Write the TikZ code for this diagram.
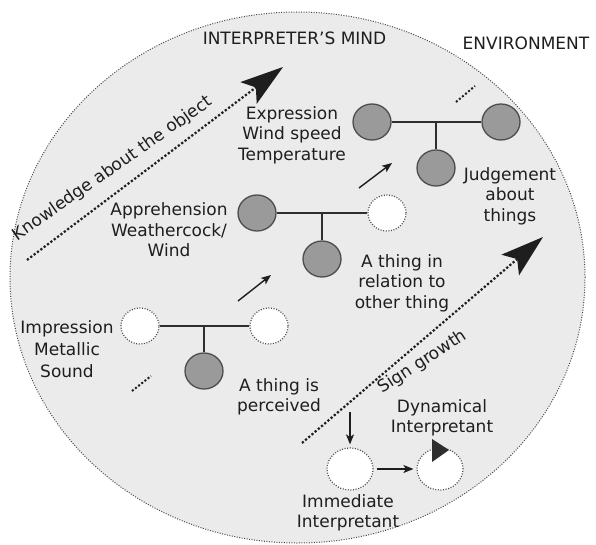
\documentclass[tikz,border=0pt]{standalone}
\usepackage{fontspec}
\setmainfont{DejaVu Sans}
\usetikzlibrary{arrows.meta,shapes.geometric,calc}

\definecolor{mindfill}{HTML}{EBEBEB}
\definecolor{dotline}{HTML}{4A4A4A}
\definecolor{signfill}{HTML}{9A9A9A}
\definecolor{signedge}{HTML}{4D4D4D}
\definecolor{bar}{HTML}{2E2E2E}
\definecolor{ink}{HTML}{1E1E1E}

\tikzset{
  lbl/.style={align=center, text=ink, inner sep=0pt,
    font=\fontsize{17}{20.5}\selectfont},
  title/.style={text=ink, inner sep=0pt, font=\fontsize{17}{20}\selectfont},
  filled/.style={ellipse, minimum width=38pt, minimum height=36pt, inner sep=0pt,
    fill=signfill, draw=signedge, line width=1.3pt},
  empty/.style={ellipse, minimum width=38pt, minimum height=36pt, inner sep=0pt,
    fill=white, draw=dotline, line width=1.2pt, dash pattern=on 1pt off 1.6pt},
  interp/.style={empty, minimum width=46pt, minimum height=42pt},
  link/.style={draw=bar, line width=2pt},
  growth/.style={draw=ink, line width=2.2pt, dash pattern=on 2.2pt off 2pt,
    -{Stealth[length=43pt, width=27pt, inset=9pt]}},
  ellipsis/.style={draw=ink, line width=2pt, dash pattern=on 2pt off 2pt},
  step arrow/.style={draw=ink, line width=1.4pt,
    -{Stealth[length=10pt, width=8pt, inset=2.5pt]}},
}

\begin{document}
\begin{tikzpicture}[x=1pt, y=-1pt]
  \useasboundingbox (0,0) rectangle (596,545);

  % the interpreter's mind
  \node[ellipse, minimum width=575pt, minimum height=531pt, fill=mindfill,
        draw=dotline, line width=1pt, dash pattern=on 1pt off 1.5pt] (mind) at (297.5,277.5) {};
  \node[title, anchor=base] (mindname) at (294.5,45) {INTERPRETER'S MIND};
  \node[title, anchor=base] (envname) at (526,50) {ENVIRONMENT};

  % growth directions
  \coordinate (k0) at (27,260);
  \coordinate (k1) at (283,67);
  \draw[growth] (k0) -- (k1);
  \node[title, rotate=35, anchor=base] (klabel) at (115.5,172.5) {Knowledge about the object};

  \coordinate (s0) at (302,443);
  \coordinate (s1) at (543,237);
  \draw[growth] (s0) -- (s1);
  \node[title, rotate=33, anchor=base] (slabel) at (425,366) {Sign growth};

  % continuation marks
  \coordinate (e0) at (132,391);
  \coordinate (e1) at (151,376);
  \draw[ellipsis] (e0) -- (e1);
  \coordinate (e2) at (456,102);
  \coordinate (e3) at (475,86);
  \draw[ellipsis] (e2) -- (e3);

  % first stage: impression
  \node[empty] (a1) at (140,326) {};
  \node[empty] (b1) at (269,326) {};
  \node[filled] (c1) at (204,371) {};
  \draw[link] (a1) -- (b1);
  \draw[link] (c1 |- a1) -- (c1);
  \node[lbl, font=\fontsize{17}{22}\selectfont] (t1) at (67,349) {Impression\\Metallic\\Sound};
  \node[lbl] (t2) at (279,397) {A thing is\\perceived};

  % second stage: apprehension
  \node[filled] (a2) at (257,213) {};
  \node[empty] (b2) at (387,213) {};
  \node[filled] (c2) at (322,259) {};
  \draw[link] (a2) -- (b2);
  \draw[link] (c2 |- a2) -- (c2);
  \node[lbl] (t3) at (169,230) {Apprehension\\Weathercock/\\Wind};
  \node[lbl] (t4) at (402,283) {A thing in\\relation to\\other thing};

  % third stage: expression
  \node[filled] (a3) at (372,122) {};
  \node[filled] (b3) at (501,122) {};
  \node[filled] (c3) at (436,168) {};
  \draw[link] (a3) -- (b3);
  \draw[link] (c3 |- a3) -- (c3);
  \node[lbl] (t5) at (292,135) {Expression\\Wind speed\\Temperature};
  \node[lbl] (t6) at (510,196) {Judgement\\about\\things};

  % steps between stages
  \coordinate (p0) at (238,301);
  \coordinate (p1) at (271,275);
  \draw[step arrow] (p0) -- (p1);
  \coordinate (q0) at (359,188);
  \coordinate (q1) at (392,163);
  \draw[step arrow] (q0) -- (q1);

  % interpretants
  \node[interp] (imm) at (350,469) {};
  \node[interp] (dyn) at (440,469) {};
  \fill[bar] ($(dyn)+(-8,-30)$) -- ($(dyn)+(9,-19)$) -- ($(dyn)+(-8,-7)$) -- cycle;
  \coordinate (dn) at (350,412);
  \draw[step arrow, shorten >=3pt] (dn) -- (imm);
  \draw[step arrow, shorten <=3pt, shorten >=3pt] (imm) -- (dyn);
  \node[lbl] (t7) at (442,418) {Dynamical\\Interpretant};
  \node[lbl] (t8) at (348,513) {Immediate\\Interpretant};
\end{tikzpicture}
\end{document}
